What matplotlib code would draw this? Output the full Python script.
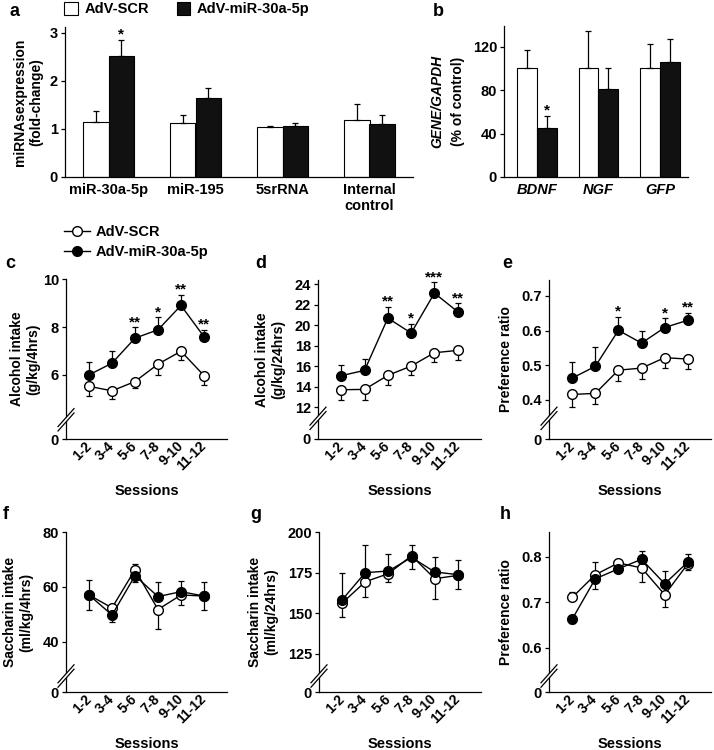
import numpy as np
import matplotlib
matplotlib.use("Agg")
import matplotlib.pyplot as plt
import matplotlib.transforms as mtransforms
from matplotlib.patches import Patch
from matplotlib.lines import Line2D

plt.rcParams['font.family'] = ['Liberation Sans', 'DejaVu Sans']
plt.rcParams['font.weight'] = 'bold'
plt.rcParams['axes.labelweight'] = 'bold'
plt.rcParams['font.size'] = 10
plt.rcParams['axes.linewidth'] = 0.9

W, H = 714, 750

# ---- data ----
groups = ['AdV-SCR', 'AdV-miR-30a-5p']

mirnas = ['miR-30a-5p', 'miR-195', '5srRNA', 'Internal\ncontrol']
a_scr = [1.14, 1.12, 1.03, 1.18]
a_scr_err = [0.23, 0.18, 0.04, 0.33]
a_mir = [2.52, 1.64, 1.06, 1.10]
a_mir_err = [0.33, 0.21, 0.06, 0.20]
a_stars = ['*', '', '', '']

genes = ['BDNF', 'NGF', 'GFP']
b_scr = [100, 100, 100]
b_scr_err = [17, 34, 22]
b_mir = [45, 81, 106]
b_mir_err = [11, 19, 21]
b_stars = ['*', '', '']

sessions = ['1-2', '3-4', '5-6', '7-8', '9-10', '11-12']

c_scr = [5.52, 5.33, 5.72, 6.45, 6.99, 5.97]
c_scr_lo = [0.42, 0.36, 0.29, 0.44, 0.35, 0.39]
c_mir = [6.00, 6.49, 7.54, 7.89, 8.91, 7.60]
c_mir_hi = [0.55, 0.51, 0.45, 0.52, 0.43, 0.29]
c_stars = ['', '', '**', '*', '**', '**']

d_scr = [13.69, 13.72, 15.09, 16.00, 17.30, 17.53]
d_scr_lo = [0.97, 1.00, 0.98, 0.91, 0.91, 0.98]
d_mir = [15.06, 15.58, 20.68, 19.22, 23.12, 21.30]
d_mir_hi = [1.01, 1.14, 1.08, 0.91, 1.04, 0.81]
d_stars = ['', '', '**', '*', '***', '**']

e_scr = [0.416, 0.419, 0.486, 0.492, 0.522, 0.518]
e_scr_lo = [0.036, 0.030, 0.030, 0.031, 0.029, 0.029]
e_mir = [0.463, 0.497, 0.601, 0.564, 0.609, 0.630]
e_mir_hi = [0.046, 0.055, 0.039, 0.034, 0.026, 0.020]
e_stars = ['', '', '*', '', '*', '**']

f_scr = [57.1, 52.4, 66.3, 51.8, 57.1, 56.7]
f_scr_lo = [5.3, 0, 0, 7.2, 3.8, 4.9]
f_scr_hi = [0, 0, 2.0, 0, 0, 0]
f_mir = [57.1, 49.8, 64.1, 56.5, 58.3, 56.7]
f_mir_lo = [0, 2.6, 2.4, 0, 0, 0]
f_mir_hi = [5.3, 0, 0, 5.4, 4.0, 5.2]

g_scr = [156.3, 169.4, 174.4, 185.4, 171.3, 173.3]
g_scr_lo = [8.4, 9.2, 5.4, 0, 12.2, 8.3]
g_scr_hi = [0, 0, 0, 6.9, 0, 0]
g_mir = [158.3, 175.0, 176.0, 184.4, 175.4, 173.8]
g_mir_lo = [0, 0, 0, 6.9, 0, 0]
g_mir_hi = [16.7, 16.7, 10.5, 0, 9.0, 8.9]

h_scr = [0.711, 0.761, 0.787, 0.776, 0.717, 0.785]
h_scr_lo = [0, 0, 0, 0.030, 0.028, 0.013]
h_scr_hi = [0.013, 0.029, 0.004, 0, 0, 0]
h_mir = [0.663, 0.752, 0.774, 0.795, 0.741, 0.789]
h_mir_lo = [0.008, 0.022, 0.004, 0, 0, 0]
h_mir_hi = [0, 0, 0, 0.018, 0.029, 0.018]

fig = plt.figure(figsize=(W / 100, H / 100), dpi=100)


def box(left, right, top, bottom):
    return [left / W, 1 - bottom / H, (right - left) / W, (bottom - top) / H]


def style(ax):
    for s in ('top', 'right'):
        ax.spines[s].set_visible(False)
    ax.tick_params(axis='y', direction='out', length=3, width=0.9, pad=2, labelsize=10.5)
    ax.tick_params(axis='x', length=0)


def broken_scale(ax, z, lo):
    # compress 0..lo so the zero tick sits just under the break
    def fwd(v):
        v = np.asarray(v, dtype=float)
        return np.where(v >= lo, v, z + v * (lo - z) / lo)

    def inv(u):
        u = np.asarray(u, dtype=float)
        return np.where(u >= lo, u, (u - z) * lo / (lo - z))

    ax.set_yscale('function', functions=(fwd, inv))


def break_marks(ax, yf, wpx, hpx):
    dx, dy, gap = 8 / wpx, 9 / hpx, 2.2 / hpx
    poly = plt.Polygon([(-dx, yf - dy - gap), (dx, yf + dy - gap),
                        (dx, yf + dy + gap), (-dx, yf - dy + gap)],
                       closed=True, transform=ax.transAxes, facecolor='white',
                       edgecolor='none', clip_on=False, zorder=4)
    ax.add_patch(poly)
    for off in (-gap, gap):
        ax.plot([-dx, dx], [yf - dy + off, yf + dy + off], transform=ax.transAxes,
                color='k', lw=0.9, clip_on=False, zorder=5)


def bar_panel(ax, cats, scr, scr_err, mir, mir_err, stars, w):
    x = np.arange(len(cats))
    ax.bar(x - w / 2, scr, w, color='white', edgecolor='k', lw=0.8,
           yerr=[np.zeros(len(cats)), scr_err],
           error_kw=dict(ecolor='k', elinewidth=0.9, capsize=2.5, capthick=0.9))
    ax.bar(x + w / 2, mir, w, color='#111111', edgecolor='k', lw=0.8,
           yerr=[np.zeros(len(cats)), mir_err],
           error_kw=dict(ecolor='k', elinewidth=0.9, capsize=2.5, capthick=0.9))
    for xi, m, e, s in zip(x, mir, mir_err, stars):
        if s:
            ax.annotate(s, (xi + w / 2, m + e), xytext=(0, 1), textcoords='offset points',
                        ha='center', va='baseline', fontsize=11)
    ax.set_xticks(x)
    style(ax)
    ax.tick_params(axis='x', pad=4, labelsize=10.5)


def line_panel(ax, scr, scr_lo, scr_hi, mir, mir_lo, mir_hi, stars=None):
    x = np.arange(len(sessions))
    ekw = dict(fmt='none', ecolor='k', elinewidth=0.9, capsize=2.5, capthick=0.9, zorder=2)
    ax.errorbar(x, scr, yerr=[scr_lo, scr_hi], **ekw)
    ax.errorbar(x, mir, yerr=[mir_lo, mir_hi], **ekw)
    ax.plot(x, scr, '-o', color='k', mfc='white', mec='k', ms=7, mew=1, lw=1, zorder=3)
    ax.plot(x, mir, '-o', color='k', mfc='k', mec='k', ms=7, mew=1, lw=1, zorder=4)
    if stars:
        for xi, m, e, s in zip(x, mir, mir_hi, stars):
            if s:
                ax.annotate(s, (xi, m + e), xytext=(0, 1), textcoords='offset points',
                            ha='center', va='baseline', fontsize=11)
    ax.set_xlim(-1, 6)
    ax.set_xticks(x)
    ax.set_xticklabels(sessions, rotation=45, ha='right', va='center',
                       rotation_mode='anchor', fontsize=10)
    shift = mtransforms.ScaledTranslation(7 / 100, -9 / 100, fig.dpi_scale_trans)
    for lab in ax.get_xticklabels():
        lab.set_transform(lab.get_transform() + shift)
    ax.set_xlabel('Sessions', fontsize=10.5)
    ax.xaxis.set_label_coords(0.5, -0.28)
    style(ax)


# ---- a ----
ax_a = fig.add_axes(box(65, 413, 27, 177))
bar_panel(ax_a, mirnas, a_scr, a_scr_err, a_mir, a_mir_err, a_stars, 0.29)
ax_a.set_xlim(-0.5, 3.5)
ax_a.set_ylim(0, 3.12)
ax_a.set_yticks([0, 1, 2, 3])
ax_a.set_xticklabels(mirnas, va='top')
ax_a.set_ylabel('miRNAsexpression\n(fold-change)')
ax_a.yaxis.set_label_coords(-0.063, 0.5)

# ---- b ----
ax_b = fig.add_axes(box(504, 688, 26, 177))
bar_panel(ax_b, genes, b_scr, b_scr_err, b_mir, b_mir_err, b_stars, 0.325)
ax_b.set_xlim(-0.54, 2.46)
ax_b.set_ylim(0, 139)
ax_b.set_yticks([0, 40, 80, 120])
ax_b.set_xticklabels(genes, style='italic')
ax_b.text(-0.36, 0.5, 'GENE/GAPDH', transform=ax_b.transAxes, rotation=90,
          ha='center', va='center', style='italic')
ax_b.text(-0.25, 0.5, '(% of control)', transform=ax_b.transAxes, rotation=90,
          ha='center', va='center')

# ---- c, d, e ----
ax_c = fig.add_axes(box(66, 227, 279, 439))
broken_scale(ax_c, 3.31, 4.6)
line_panel(ax_c, c_scr, c_scr_lo, np.zeros(6), c_mir, np.zeros(6), c_mir_hi, c_stars)
ax_c.set_ylim(0, 10.02)
ax_c.set_yticks([0, 6, 8, 10])
ax_c.set_ylabel('Alcohol intake\n(g/kg/4hrs)')
ax_c.yaxis.set_label_coords(-0.16, 0.5)
break_marks(ax_c, 0.12, 161, 160)

ax_d = fig.add_axes(box(318, 481, 280, 439))
broken_scale(ax_d, 8.88, 10.6)
line_panel(ax_d, d_scr, d_scr_lo, np.zeros(6), d_mir, np.zeros(6), d_mir_hi, d_stars)
ax_d.set_ylim(0, 24.4)
ax_d.set_yticks([0, 12, 14, 16, 18, 20, 22, 24])
ax_d.set_ylabel('Alcohol intake\n(g/kg/24hrs)')
ax_d.yaxis.set_label_coords(-0.20, 0.5)
break_marks(ax_d, 0.13, 163, 159)

ax_e = fig.add_axes(box(549, 711, 280, 439))
broken_scale(ax_e, 0.2875, 0.35)
line_panel(ax_e, e_scr, e_scr_lo, np.zeros(6), e_mir, np.zeros(6), e_mir_hi, e_stars)
ax_e.set_ylim(0, 0.746)
ax_e.set_yticks([0, 0.4, 0.5, 0.6, 0.7])
ax_e.set_yticklabels(['0', '0.4', '0.5', '0.6', '0.7'])
ax_e.set_ylabel('Preference ratio')
ax_e.yaxis.set_label_coords(-0.22, 0.5)
break_marks(ax_e, 0.13, 162, 159)

# ---- f, g, h ----
ax_f = fig.add_axes(box(66, 227, 532, 692))
broken_scale(ax_f, 21.8, 30)
line_panel(ax_f, f_scr, f_scr_lo, f_scr_hi, f_mir, f_mir_lo, f_mir_hi)
ax_f.set_ylim(0, 80)
ax_f.set_yticks([0, 40, 60, 80])
ax_f.set_ylabel('Saccharin intake\n(ml/kg/4hrs)')
ax_f.yaxis.set_label_coords(-0.205, 0.5)
break_marks(ax_f, 0.10, 161, 160)

ax_g = fig.add_axes(box(319, 481, 532, 692))
broken_scale(ax_g, 101.6, 112)
line_panel(ax_g, g_scr, g_scr_lo, g_scr_hi, g_mir, g_mir_lo, g_mir_hi)
ax_g.set_ylim(0, 200)
ax_g.set_yticks([0, 125, 150, 175, 200])
ax_g.set_ylabel('Saccharin intake\n(ml/kg/24hrs)')
ax_g.yaxis.set_label_coords(-0.25, 0.5)
break_marks(ax_g, 0.10, 162, 160)

ax_h = fig.add_axes(box(549, 711, 532, 692))
broken_scale(ax_h, 0.503, 0.55)
line_panel(ax_h, h_scr, h_scr_lo, h_scr_hi, h_mir, h_mir_lo, h_mir_hi)
ax_h.set_ylim(0, 0.855)
ax_h.set_yticks([0, 0.6, 0.7, 0.8])
ax_h.set_yticklabels(['0', '0.6', '0.7', '0.8'])
ax_h.set_ylabel('Preference ratio')
ax_h.yaxis.set_label_coords(-0.22, 0.5)
break_marks(ax_h, 0.10, 162, 160)

# ---- legends ----
bar_handles = [Patch(facecolor='white', edgecolor='k', lw=0.8),
               Patch(facecolor='#111111', edgecolor='k', lw=0.8)]
fig.legend(bar_handles, groups, loc='upper left', bbox_to_anchor=(64 / W, 1 - 2 / H),
           ncol=2, frameon=False, handlelength=0.95, handleheight=0.95, fontsize=10.5,
           handletextpad=0.45, columnspacing=1.9, borderpad=0, borderaxespad=0)

line_handles = [Line2D([], [], color='k', marker='o', mfc='white', mec='k', ms=7, lw=1),
                Line2D([], [], color='k', marker='o', mfc='k', mec='k', ms=7, lw=1)]
fig.legend(line_handles, groups, loc='upper left', bbox_to_anchor=(64 / W, 1 - 225 / H),
           frameon=False, handlelength=1.75, handletextpad=0.4, labelspacing=0.4,
           fontsize=10.5, borderpad=0, borderaxespad=0)

# ---- panel letters ----
for lab, px, py in [('a', 9, 16), ('b', 433, 16), ('c', 5, 268), ('d', 255, 268),
                    ('e', 502, 268), ('f', 3, 519), ('g', 250, 519), ('h', 500, 519)]:
    fig.text(px / W, 1 - py / H, lab, fontsize=13, fontweight='bold', ha='left', va='baseline')

fig.savefig('out.png', dpi=100)
